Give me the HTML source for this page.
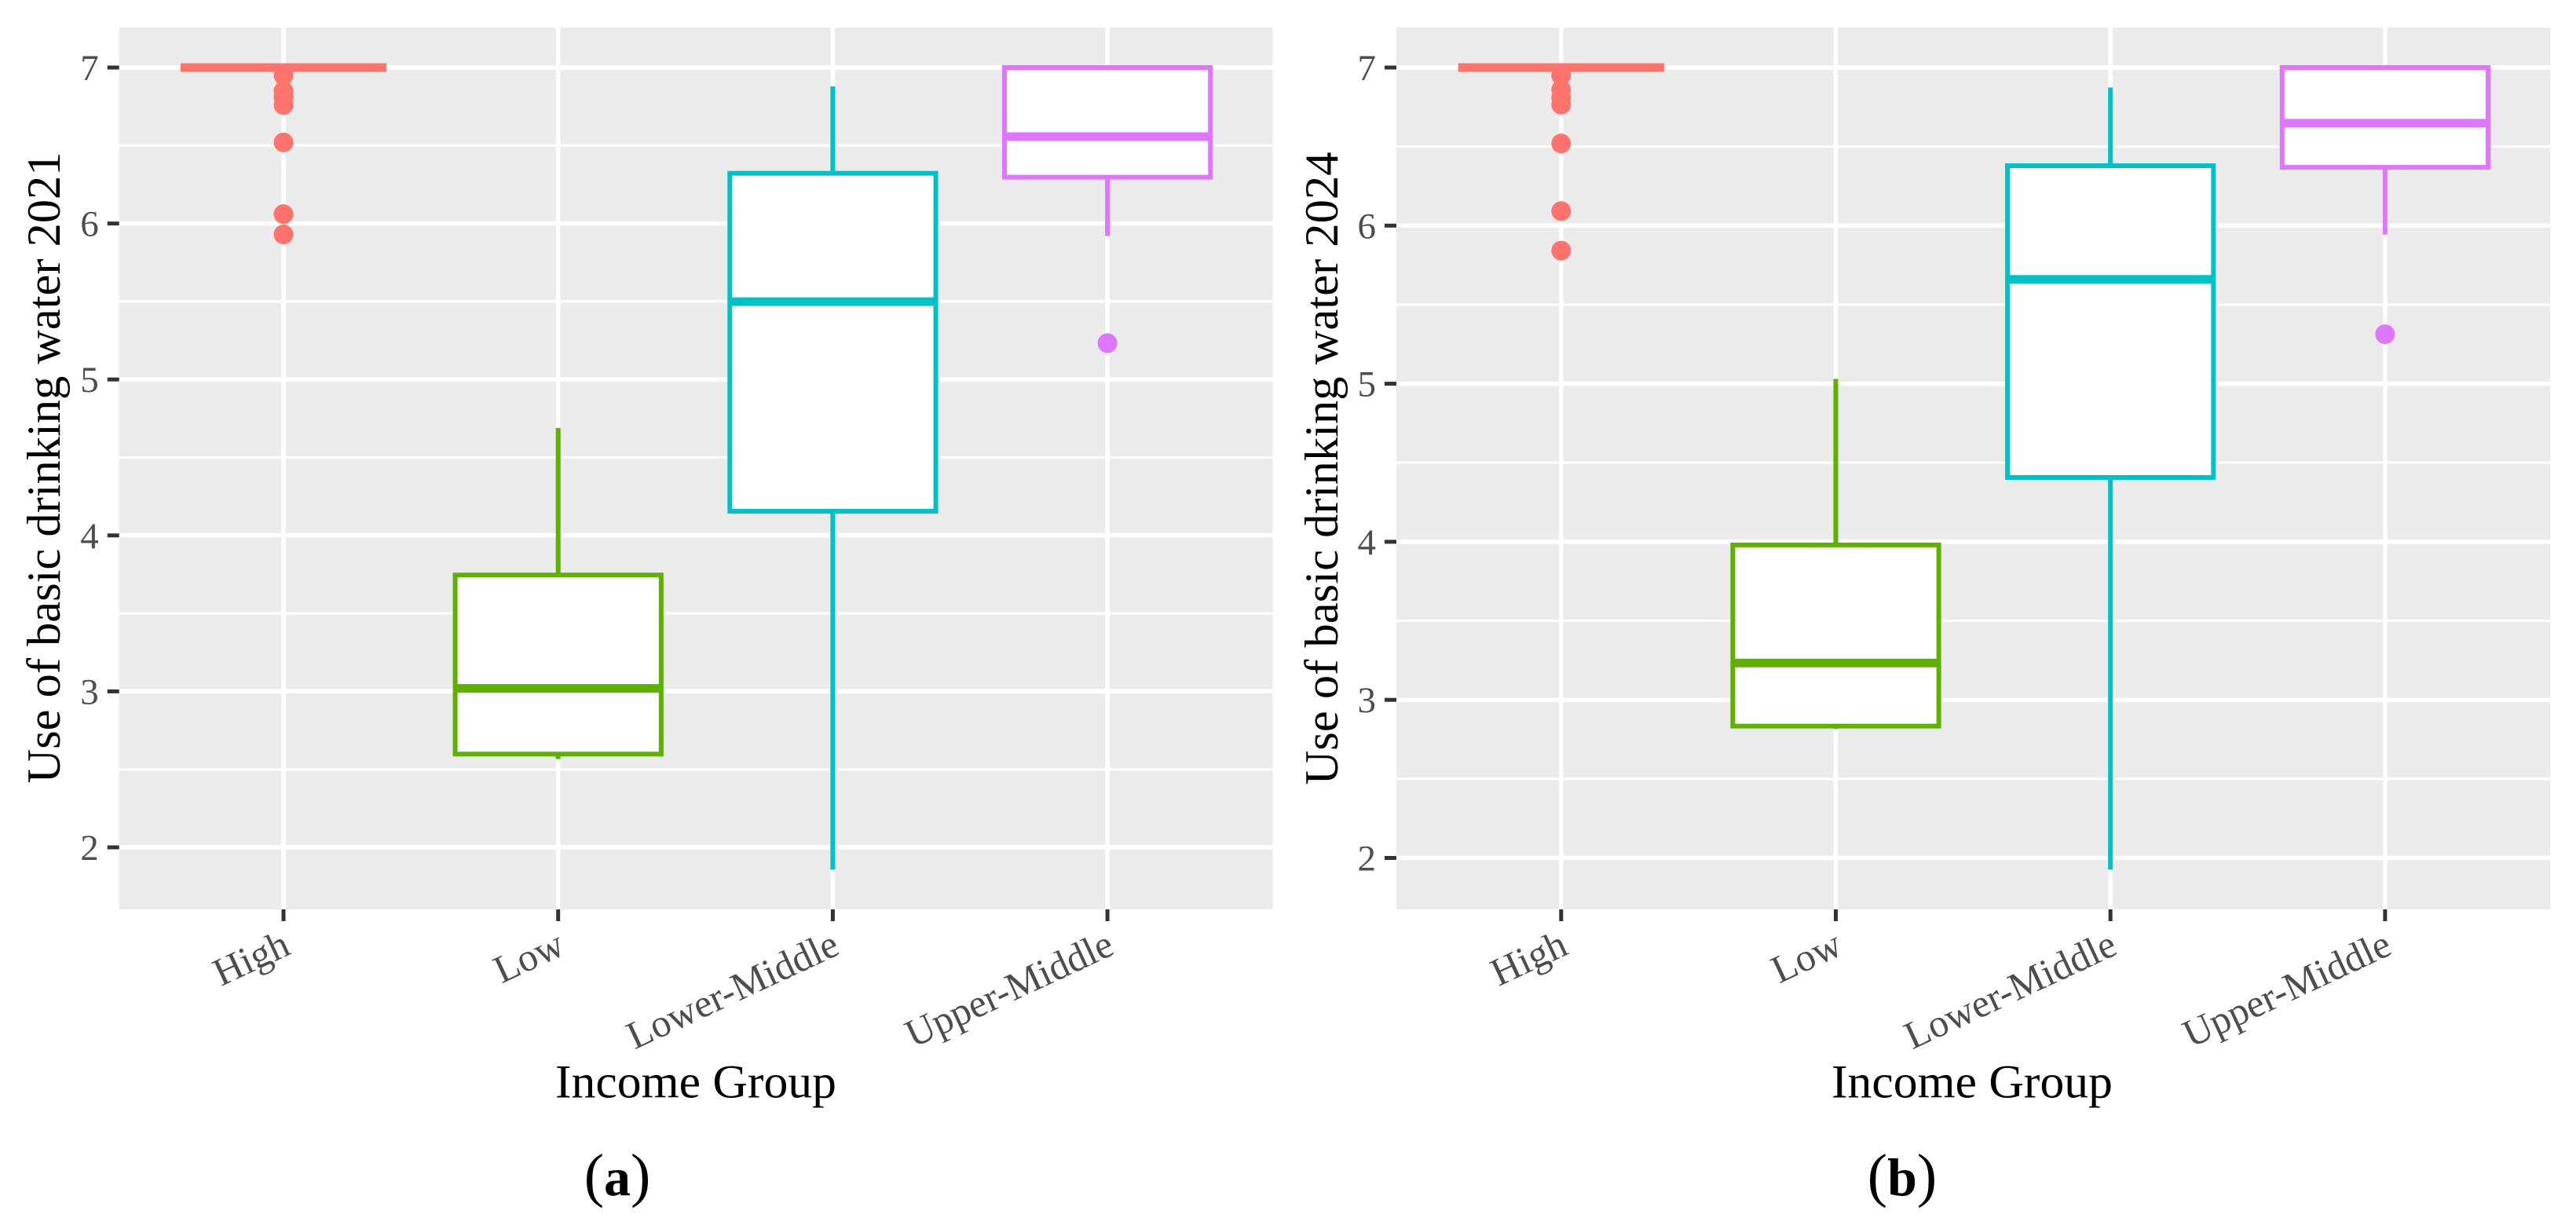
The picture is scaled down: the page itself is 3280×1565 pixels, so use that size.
<!DOCTYPE html>
<html lang="en">
<head>
<meta charset="utf-8">
<title>Use of basic drinking water by income group</title>
<style>
  html, body { margin: 0; padding: 0; background: #ffffff; }
  svg { display: block; }
  text { font-family: "Liberation Serif", serif; }
</style>
</head>
<body>
<svg id="figure" xmlns="http://www.w3.org/2000/svg" width="3280" height="1565" viewBox="0 0 3280 1565">
  <rect x="0" y="0" width="3280" height="1565" fill="#ffffff"/>
  <g id="panel-a"></g>
  <g id="panel-b"></g>

  <text transform="translate(76 595.5) rotate(-90)" text-anchor="middle" font-size="60" fill="#000000" textLength="804" lengthAdjust="spacingAndGlyphs">Use of basic drinking water 2021</text>
  <text transform="translate(1703 596.5) rotate(-90)" text-anchor="middle" font-size="60" fill="#000000" textLength="806" lengthAdjust="spacingAndGlyphs">Use of basic drinking water 2024</text>

  <text x="886" y="1397.5" text-anchor="middle" font-size="60" fill="#000000" textLength="358" lengthAdjust="spacingAndGlyphs">Income Group</text>
  <text x="2511" y="1397.5" text-anchor="middle" font-size="60" fill="#000000" textLength="358" lengthAdjust="spacingAndGlyphs">Income Group</text>

  <text x="786" y="1522" text-anchor="middle" font-size="76" fill="#000000">(<tspan font-weight="bold" font-size="68">a</tspan>)</text>
  <text x="2422" y="1522" text-anchor="middle" font-size="76" fill="#000000">(<tspan font-weight="bold" font-size="68">b</tspan>)</text>
</svg>

<script>
// Shared axis data
const categories = ["High", "Low", "Lower-Middle", "Upper-Middle"];
const yTickLabels = [2, 3, 4, 5, 6, 7];
const yMinorBreaks = [2.5, 3.5, 4.5, 5.5, 6.5];
const seriesColors = ["#FF736C", "#5EB100", "#00C1C6", "#DE76FF"];

// Panel (a) 2021 values, ordered as categories
const q1Values2021 = [7, 2.598, 4.155, 6.297];
const medianValues2021 = [7, 3.019, 5.499, 6.557];
const q3Values2021 = [7, 3.746, 6.322, 7];
const whiskerLow2021 = [7, 2.566, 1.857, 5.92];
const whiskerHigh2021 = [7, 4.689, 6.879, 7];
const outliersHigh2021 = [6.95, 6.85, 6.81, 6.76, 6.52, 6.06, 5.93];
const outliersLow2021 = [];
const outliersLowerMiddle2021 = [];
const outliersUpperMiddle2021 = [5.233];

// Panel (b) 2024 values, ordered as categories
const q1Values2024 = [7, 2.834, 4.407, 6.369];
const medianValues2024 = [7, 3.233, 5.66, 6.648];
const q3Values2024 = [7, 3.98, 6.379, 7];
const whiskerLow2024 = [7, 2.816, 1.926, 5.944];
const whiskerHigh2024 = [7, 5.03, 6.874, 7];
const outliersHigh2024 = [6.95, 6.86, 6.81, 6.765, 6.52, 6.092, 5.842];
const outliersLow2024 = [];
const outliersLowerMiddle2024 = [];
const outliersUpperMiddle2024 = [5.313];

const SVG_NS = "http://www.w3.org/2000/svg";

function make(parent, tag, attrs) {
  const el = document.createElementNS(SVG_NS, tag);
  for (const key in attrs) {
    el.setAttribute(key, attrs[key]);
  }
  parent.appendChild(el);
  return el;
}

function drawPanel(group, layout, data) {
  const top = 35;
  const bottom = 1158;
  const left = layout.left;
  const right = layout.right;

  // Axis functions
  const xScale = function (i) { return layout.firstX + i * 349.7; };
  const yScale = function (v) { return 86 + (7 - v) * layout.unit; };
  const boxWidth = 0.75 * 349.7;

  const bg = make(group, "rect", { x: left, y: top, width: right - left, height: bottom - top, fill: "#EBEBEB" });
  
  

  yMinorBreaks.forEach(function (v) {
    const line = make(group, "line", { x1: left, x2: right, y1: yScale(v), y2: yScale(v), stroke: "#ffffff", "stroke-width": 3 });
    
    
  });

  yTickLabels.forEach(function (v) {
    const line = make(group, "line", { x1: left, x2: right, y1: yScale(v), y2: yScale(v), stroke: "#ffffff", "stroke-width": 5.5 });
    
    

    const tick = make(group, "line", { x1: left - 15, x2: left, y1: yScale(v), y2: yScale(v), stroke: "#333333", "stroke-width": 5 });
    
    

    const label = make(group, "text", { x: left - 26, y: yScale(v) + 16, "text-anchor": "end", "font-size": 47, fill: "#4D4D4D" });
    label.textContent = String(v);
    
    
  });

  categories.forEach(function (name, i) {
    const x = xScale(i);

    const line = make(group, "line", { x1: x, x2: x, y1: top, y2: bottom, stroke: "#ffffff", "stroke-width": 5.5 });
    
    

    const tick = make(group, "line", { x1: x, x2: x, y1: bottom, y2: bottom + 15, stroke: "#333333", "stroke-width": 5 });
    
    

    const label = make(group, "text", { transform: "translate(" + (x + 11) + " 1214) rotate(-25)", "text-anchor": "end", "font-size": 50, fill: "#4D4D4D" });
    label.textContent = name;
    
    
  });

  categories.forEach(function (name, i) {
    const x = xScale(i);
    const color = seriesColors[i];

    const whiskerUp = make(group, "line", { x1: x, x2: x, y1: yScale(data.q3[i]), y2: yScale(data.high[i]), stroke: color, "stroke-width": 6 });
    
    

    const whiskerDown = make(group, "line", { x1: x, x2: x, y1: yScale(data.q1[i]), y2: yScale(data.low[i]), stroke: color, "stroke-width": 6 });
    
    

    const box = make(group, "rect", {
      x: x - boxWidth / 2,
      y: yScale(data.q3[i]),
      width: boxWidth,
      height: yScale(data.q1[i]) - yScale(data.q3[i]),
      fill: "#ffffff",
      stroke: color,
      "stroke-width": 6
    });
    
    

    const median = make(group, "line", { x1: x - boxWidth / 2, x2: x + boxWidth / 2, y1: yScale(data.median[i]), y2: yScale(data.median[i]), stroke: color, "stroke-width": 11 });
    
    

    data.outliers[i].forEach(function (v) {
      const dot = make(group, "circle", { cx: x, cy: yScale(v), r: 12.5, fill: color });
      
      
    });
  });
}

drawPanel(document.getElementById("panel-a"),
  { left: 151.7, right: 1620.5, firstX: 361, unit: 198.6 },
  {
    q1: q1Values2021,
    median: medianValues2021,
    q3: q3Values2021,
    low: whiskerLow2021,
    high: whiskerHigh2021,
    outliers: [outliersHigh2021, outliersLow2021, outliersLowerMiddle2021, outliersUpperMiddle2021]
  });

drawPanel(document.getElementById("panel-b"),
  { left: 1778, right: 3247.4, firstX: 1987.8, unit: 201.3 },
  {
    q1: q1Values2024,
    median: medianValues2024,
    q3: q3Values2024,
    low: whiskerLow2024,
    high: whiskerHigh2024,
    outliers: [outliersHigh2024, outliersLow2024, outliersLowerMiddle2024, outliersUpperMiddle2024]
  });
</script>
</body>
</html>
